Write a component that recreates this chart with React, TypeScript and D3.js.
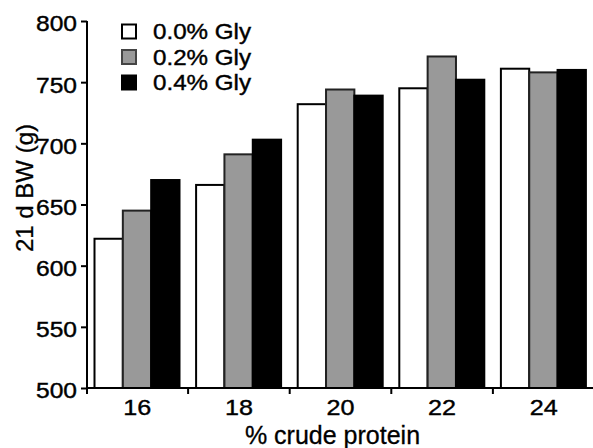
import React, { useEffect, useRef } from 'react';
import * as d3 from 'd3';

const categories = ['16', '18', '20', '22', '24'];
const seriesNames = ['0.0% Gly', '0.2% Gly', '0.4% Gly'];
const gly00 = [622, 666, 732, 745, 761];
const gly02 = [645, 691, 744, 771, 758];
const gly04 = [670, 703, 739, 752, 760];
const yTicks = [500, 550, 600, 650, 700, 750, 800];

const fills = ['#ffffff', '#999999', '#000000'];
const FONT = '"Liberation Sans", Arial, sans-serif';

const App = () => {
  const ref = useRef<SVGSVGElement>(null);

  useEffect(() => {
    const svg = d3.select(ref.current);
    svg.selectAll('*').remove();

    const series = [gly00, gly02, gly04];
    const x0 = d3.scaleBand().domain(categories).range([86.5, 594.5]).padding(0);
    const x1 = d3.scaleBand().domain(seriesNames).range([8, 93]).padding(0);
    const y = d3.scaleLinear().domain([500, 800]).range([388, 21]);

    // bars
    const groups = svg.append('g')
      .selectAll('g')
      .data(categories)
      .enter()
      .append('g')
      .attr('transform', (d) => `translate(${x0(d)},0)`);

    groups.selectAll('rect')
      .data((d, i) => series.map((s, j) => ({ name: seriesNames[j], value: s[i], j })))
      .enter()
      .append('rect')
      .attr('x', (d: any) => x1(d.name)!)
      .attr('y', (d: any) => y(d.value))
      .attr('width', x1.bandwidth())
      .attr('height', (d: any) => y(500) - y(d.value))
      .attr('fill', (d: any) => fills[d.j])
      .attr('stroke', (d: any) => (d.j === 1 ? '#222' : '#000'))
      .attr('stroke-width', 2);

    // y axis
    const yAxis = svg.append('g')
      .attr('transform', 'translate(87,0)')
      .call(d3.axisLeft(y).tickValues(yTicks).tickSize(6).tickPadding(4));
    yAxis.select('.domain').attr('d', 'M0,21V394').attr('stroke', '#000').attr('stroke-width', 2);
    yAxis.selectAll('.tick line').attr('stroke', '#000').attr('stroke-width', 2);
    yAxis.selectAll('.tick text')
      .attr('font-family', FONT)
      .attr('font-size', 21.5)
      .attr('fill', '#000')
      .attr('stroke', '#000')
      .attr('stroke-width', 0.4)
      .attr('dy', '0.46em')
      .attr('textLength', 41)
      .attr('lengthAdjust', 'spacingAndGlyphs');

    // x axis
    const xAxis = svg.append('g')
      .attr('transform', 'translate(0,388)')
      .call(d3.axisBottom(x0).tickSize(0).tickPadding(11));
    xAxis.select('.domain').attr('d', 'M86.5,0H594').attr('stroke', '#000').attr('stroke-width', 2);
    xAxis.selectAll('.tick text')
      .attr('font-family', FONT)
      .attr('font-size', 22)
      .attr('fill', '#000')
      .attr('stroke', '#000')
      .attr('stroke-width', 0.4)
      .attr('dy', '0.71em')
      .attr('textLength', 28)
      .attr('lengthAdjust', 'spacingAndGlyphs');
    // boundary ticks between groups
    xAxis.selectAll('.sep')
      .data(categories.slice(1))
      .enter()
      .append('line')
      .attr('class', 'sep')
      .attr('x1', (d) => x0(d)!)
      .attr('x2', (d) => x0(d)!)
      .attr('y1', 0)
      .attr('y2', 6)
      .attr('stroke', '#000')
      .attr('stroke-width', 2);

    // axis titles
    svg.append('text')
      .attr('x', 332.5)
      .attr('y', 444)
      .attr('text-anchor', 'middle')
      .attr('font-family', FONT)
      .attr('font-size', 25)
      .attr('stroke', '#000')
      .attr('stroke-width', 0.3)
      .text('% crude protein');

    svg.append('text')
      .attr('transform', 'translate(33,188) rotate(-90)')
      .attr('text-anchor', 'middle')
      .attr('font-family', FONT)
      .attr('font-size', 24)
      .attr('stroke', '#000')
      .attr('stroke-width', 0.3)
      .text('21 d BW (g)');

    // legend
    const legend = svg.append('g')
      .selectAll('g')
      .data(seriesNames)
      .enter()
      .append('g')
      .attr('transform', (d, i) => `translate(122,${24.5 + i * 25.5})`);
    legend.append('rect')
      .attr('width', 14)
      .attr('height', 14)
      .attr('fill', (d, i) => fills[i])
      .attr('stroke', (d, i) => (i === 1 ? '#444' : '#000'))
      .attr('stroke-width', 2);
    legend.append('text')
      .attr('x', 31)
      .attr('y', 14.5)
      .attr('font-family', FONT)
      .attr('font-size', 21.5)
      .attr('stroke', '#000')
      .attr('stroke-width', 0.4)
      .attr('textLength', 98)
      .attr('lengthAdjust', 'spacingAndGlyphs')
      .text((d) => d);
  }, []);

  return (
    <svg
      ref={ref}
      width={593}
      height={448}
      style={{ position: 'absolute', left: 0, top: 0, background: '#fff' }}
    />
  );
};

export default App;
